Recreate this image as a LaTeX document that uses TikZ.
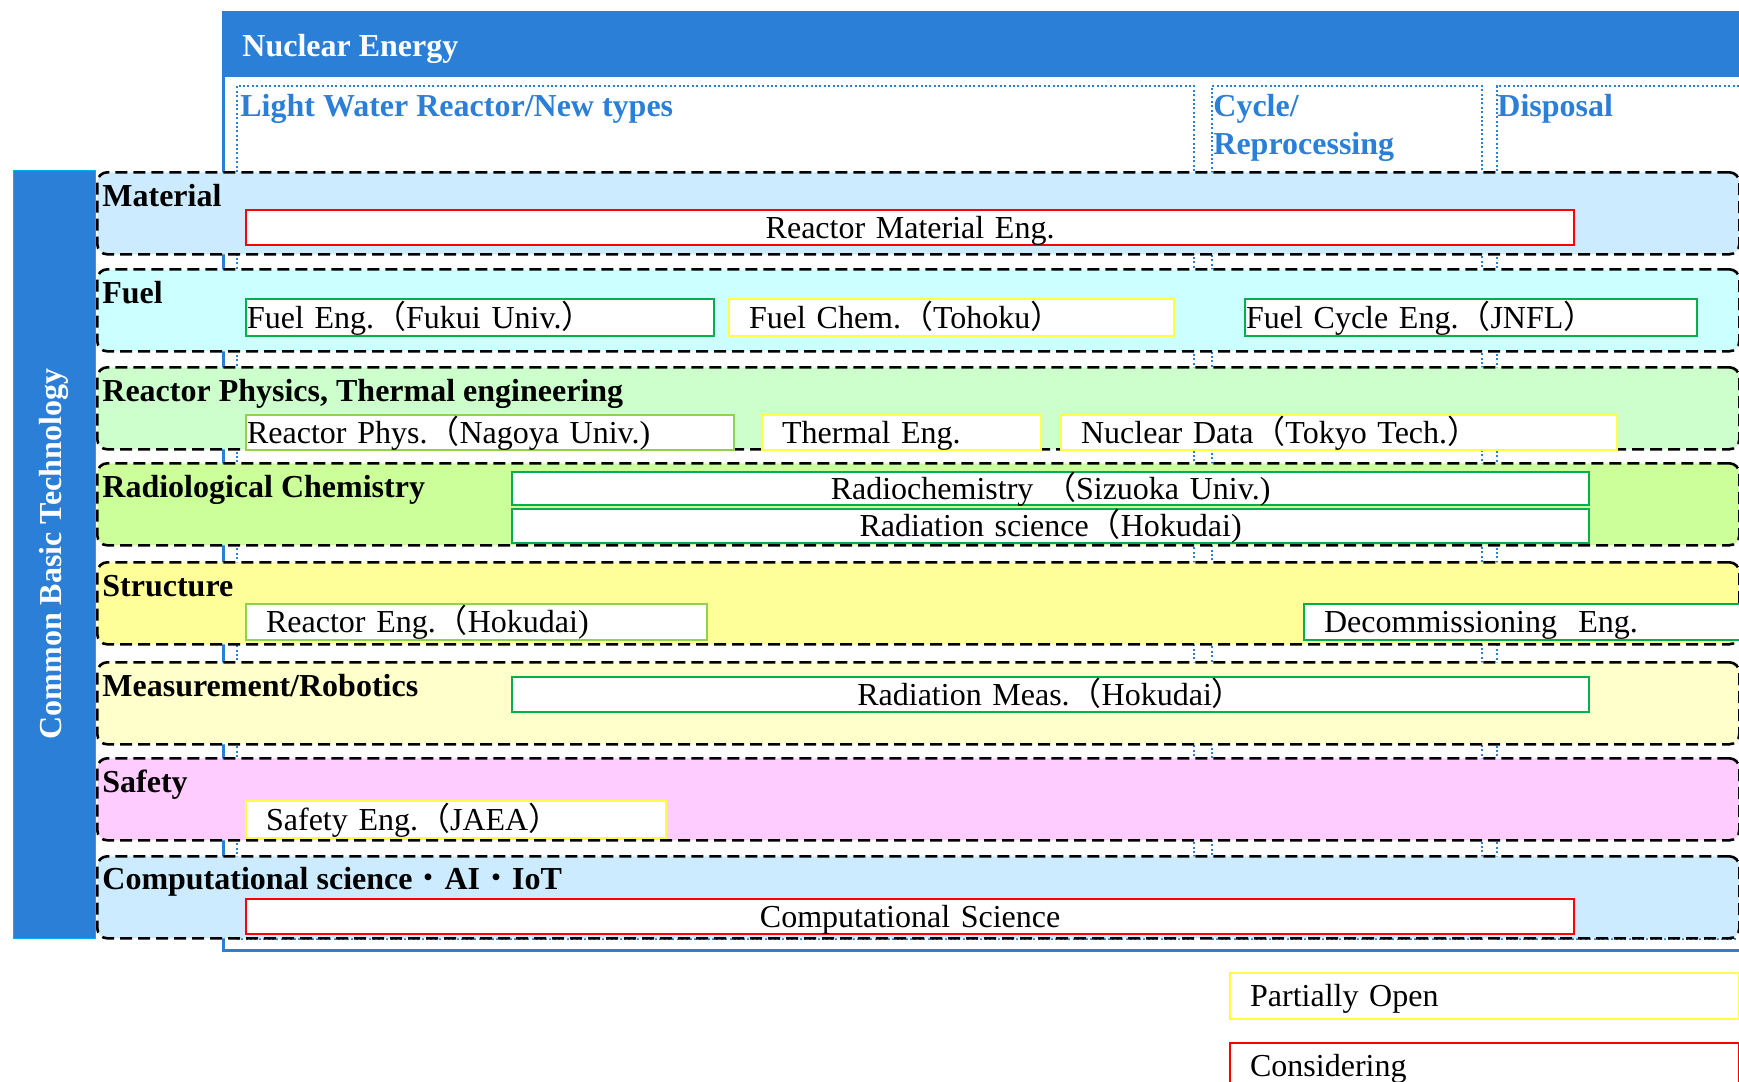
\documentclass[tikz,border=0pt]{standalone}
\usepackage{fontspec}
\setmainfont{Liberation Serif}
\newfontfamily\jfont{Noto Sans CJK JP}
\newcommand{\jlp}{{\jfont （}}
\newcommand{\jrp}{{\jfont ）}}
\newcommand{\jdot}{{\jfont\mdseries ・}}
\newcommand{\diagfont}{\fontsize{16}{19}\selectfont}
\definecolor{nuclearBlue}{HTML}{2C7FD7}
\definecolor{barEdge}{HTML}{00B0F0}
\definecolor{rowMaterial}{HTML}{CCEBFF}
\definecolor{rowFuel}{HTML}{CCFFFF}
\definecolor{rowPhysics}{HTML}{CCFFCC}
\definecolor{rowChem}{HTML}{CCFF99}
\definecolor{rowStructure}{HTML}{FFFF99}
\definecolor{rowMeasure}{HTML}{FFFFCC}
\definecolor{rowSafety}{HTML}{FFCCFF}
\definecolor{rowComp}{HTML}{CCEBFF}
\definecolor{boxGreen}{HTML}{00B050}
\definecolor{boxLime}{HTML}{92D050}
\definecolor{boxYellow}{HTML}{FFFF44}
\definecolor{boxRed}{HTML}{FF0000}
\usepackage{tikz}
\usepackage{xcolor}

\tikzset{
  rowBand/.style={draw=black, line width=1.3pt, dash pattern=on 6pt off 3pt,
    rounded corners=5pt, anchor=north west, minimum width=821pt,
    minimum height=41pt, inner sep=0pt},
  rowTitle/.style={anchor=base west, inner sep=0pt, font=\diagfont\bfseries},
  unitBox/.style={draw=#1, fill=white, line width=1.1pt, anchor=north west,
    inner ysep=0pt, inner xsep=0.5pt, align=left, text height=13.5pt, text depth=3pt},
  colBox/.style={draw=nuclearBlue, line width=0.8pt, dash pattern=on 1pt off 1.2pt,
    anchor=north west, inner sep=0pt},
  colTitle/.style={text=nuclearBlue, font=\diagfont\bfseries, anchor=north west,
    inner sep=0pt, align=left},
}

\begin{document}
\begin{tikzpicture}[x=0.5pt, y=-0.5pt, font=\diagfont]
  \useasboundingbox (0,0) rectangle (1739,1081);

  % nuclear energy frame and its three fields
  \node[fill=nuclearBlue, anchor=north west, minimum width=762pt,
        minimum height=33pt, inner sep=0pt] (nuclearHead) at (222,11) {};
  \node[draw=nuclearBlue, line width=1.5pt, anchor=north west, minimum width=762pt,
        minimum height=469pt, inner sep=0pt] (nuclearBox) at (222,11) {};
  \node[anchor=base west, inner sep=0pt, text=white, font=\diagfont\bfseries]
        (nuclearTitle) at (242,57) {Nuclear Energy};
  \node[colBox, minimum width=478.5pt, minimum height=426.5pt] (lwrCol) at (236,85) {};
  \node[colBox, minimum width=135pt, minimum height=426.5pt] (cycleCol) at (1211,85) {};
  \node[colBox, minimum width=130pt, minimum height=426.5pt] (disposalCol) at (1496,85) {};
  \node[colTitle] (lwrTitle) at (240,94) {Light Water Reactor/New types};
  \node[colTitle] (cycleTitle) at (1213,94) {Cycle/\\Reprocessing};
  \node[colTitle] (disposalTitle) at (1497,94) {Disposal};

  % common basic technology bands
  \node[rowBand, fill=rowMaterial] (material) at (96,171) {};
  \node[rowBand, fill=rowFuel] (fuel) at (96,268) {};
  \node[rowBand, fill=rowPhysics] (physics) at (96,366) {};
  \node[rowBand, fill=rowChem] (chem) at (96,462) {};
  \node[rowBand, fill=rowStructure] (structure) at (96,561) {};
  \node[rowBand, fill=rowMeasure] (measure) at (96,661) {};
  \node[rowBand, fill=rowSafety] (safety) at (96,757) {};
  \node[rowBand, fill=rowComp] (computing) at (96,855) {};

  \node[rowTitle] (materialTitle) at (102,206) {Material};
  \node[rowTitle] (fuelTitle) at (102,303) {Fuel};
  \node[rowTitle] (physicsTitle) at (102,401) {Reactor Physics, Thermal engineering};
  \node[rowTitle] (chemTitle) at (102,497) {Radiological Chemistry};
  \node[rowTitle] (structureTitle) at (102,596) {Structure};
  \node[rowTitle] (measureTitle) at (102,696) {Measurement/Robotics};
  \node[rowTitle] (safetyTitle) at (102,792) {Safety};
  \node[rowTitle] (computingTitle) at (102,889) {Computational science\jdot AI\jdot IoT};

  % courses
  \node[unitBox=boxRed, text width=663pt, align=center, minimum height=17.5pt]
        (matEng) at (245,209) {Reactor Material Eng.};
  \node[unitBox=boxGreen, text width=233pt, minimum height=18.5pt]
        (fuelEng) at (245,298) {Fuel Eng.\jlp Fukui Univ.\jrp};
  \node[unitBox=boxYellow, inner xsep=10pt, text width=202.5pt, minimum height=18.5pt]
        (fuelChem) at (728,298) {Fuel Chem.\jlp Tohoku\jrp};
  \node[unitBox=boxGreen, text width=225pt, minimum height=18.5pt]
        (fuelCycle) at (1244,298) {Fuel Cycle Eng.\jlp JNFL\jrp};
  \node[unitBox=boxLime, text width=243pt, minimum height=17.5pt]
        (reactorPhys) at (245,414) {Reactor Phys.\jlp Nagoya Univ.)};
  \node[unitBox=boxYellow, inner xsep=10pt, text width=119.5pt, minimum height=17.5pt]
        (thermalEng) at (761,414) {Thermal Eng.};
  \node[unitBox=boxYellow, inner xsep=10pt, text width=258pt, minimum height=17.5pt]
        (nuclearData) at (1060,414) {Nuclear Data\jlp Tokyo Tech.\jrp};
  \node[unitBox=boxGreen, text width=537.5pt, align=center, minimum height=16pt]
        (radioChem) at (511,471) {Radiochemistry \jlp Sizuoka Univ.)};
  \node[unitBox=boxGreen, text width=537.5pt, align=center, minimum height=17pt]
        (radiationSci) at (511,508) {Radiation science\jlp Hokudai)};
  \node[unitBox=boxLime, inner xsep=10pt, text width=210.5pt, minimum height=18pt]
        (reactorEng) at (245,603) {Reactor Eng.\jlp Hokudai)};
  \node[unitBox=boxGreen, inner xsep=10pt, text width=210pt, minimum height=18pt]
        (decommission) at (1303,603) {Decommissioning~ Eng.};
  \node[unitBox=boxGreen, text width=537.5pt, align=center, minimum height=17.5pt]
        (radiationMeas) at (511,676) {Radiation Meas.\jlp Hokudai\jrp};
  \node[unitBox=boxYellow, inner xsep=10pt, text width=190pt, minimum height=18.5pt]
        (safetyEng) at (245,800) {Safety Eng.\jlp JAEA\jrp};
  \node[unitBox=boxRed, text width=663pt, align=center, minimum height=17.5pt]
        (compSci) at (245,898) {Computational Science};

  % left bar
  \node[fill=nuclearBlue, draw=barEdge, line width=0.4pt, rotate=90, minimum width=384pt,
        minimum height=41pt, inner sep=0pt, text=white, font=\diagfont\bfseries]
        (basicBar) at (54,554) {Common Basic Technology};

  % legend
  \node[unitBox=boxYellow, inner xsep=10pt, text width=234.5pt, minimum height=23pt]
        (partialOpen) at (1229,972) {Partially Open};
  \node[unitBox=boxRed, inner xsep=10pt, text width=234.5pt, minimum height=23pt]
        (considering) at (1229,1042) {Considering};
\end{tikzpicture}
\end{document}
